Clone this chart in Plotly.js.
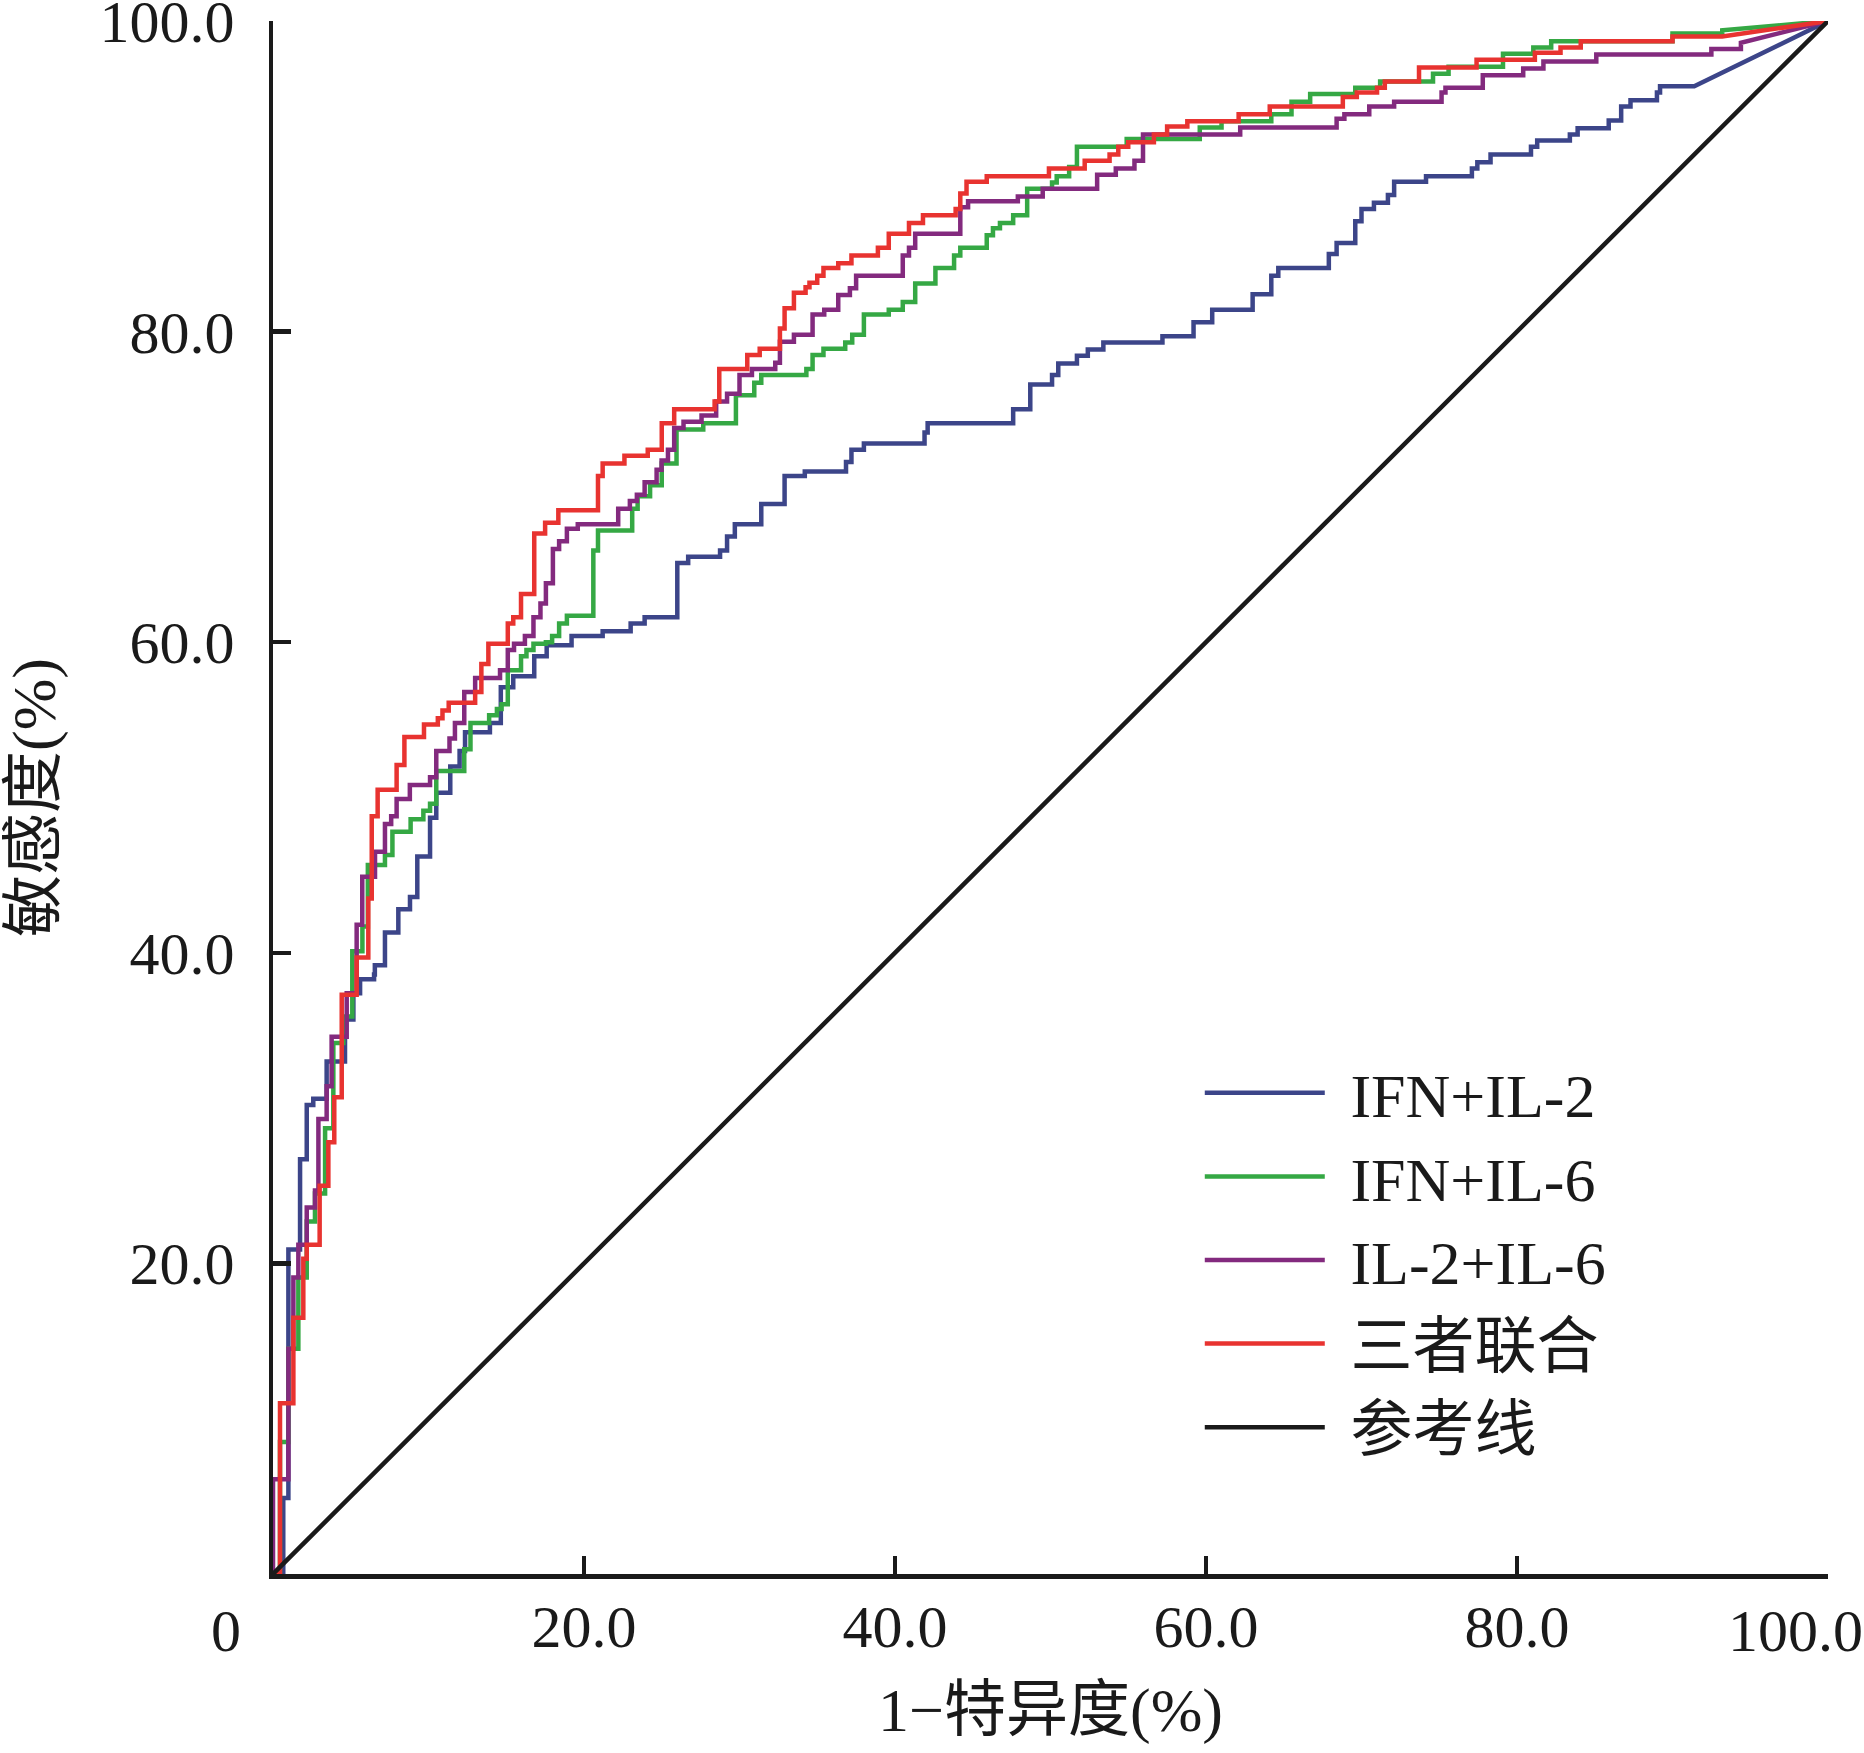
<!DOCTYPE html>
<html>
<head>
<meta charset="utf-8">
<script src="https://cdn.plot.ly/plotly-3.0.1.min.js"></script>
<style>
  body { margin: 0; background: #fff; }
  #plot { width: 1864px; height: 1753px; }
</style>
</head>
<body>
<div id="plot"></div>
<script>
//          data : step points (x = 1-specificity %, y = sensitivity %)
//          each point is the top of a riser, the last point joins straight
var names = ['IFN+IL-2', 'IFN+IL-6', 'IL-2+IL-6', '三者联合', '参考线'];
var colors = ['#3c4589', '#35a844', '#832a7e', '#e83330', '#1a1a1a'];

var blueX = [0, 0.66, 0.99, 1.74, 2.17, 2.59, 3.45, 4.63, 5.17, 5.6, 6.5, 6.55, 7.2, 8.06, 8.81, 9.28, 10.1, 10.5, 11.4, 12.0, 12.35, 13.95, 14.65, 15.45, 16.8, 17.6, 19.2, 21.2, 23.0, 23.9, 26.0, 26.7, 28.75, 29.2, 29.7, 31.4, 32.9, 34.2, 36.85, 37.2, 38.0, 41.9, 42.1, 47.6, 48.7, 50.1, 50.5, 51.7, 52.4, 53.4, 57.2, 59.2, 60.4, 63.0, 64.2, 64.65, 67.9, 68.4, 69.6, 70.0, 70.8, 71.7, 72.1, 74.15, 77.1, 77.45, 78.3, 80.9, 81.3, 83.4, 83.9, 85.9, 86.7, 87.3, 89.0, 89.2, 91.4, 100];
var blueY = [0, 4.9, 20.9, 26.7, 30.2, 30.6, 33.0, 35.7, 37.4, 38.3, 38.6, 39.2, 41.3, 42.8, 43.6, 46.2, 48.7, 50.3, 52.0, 53.0, 54.2, 54.8, 57.1, 57.8, 59.1, 59.8, 60.4, 60.7, 61.2, 61.6, 65.1, 65.5, 65.9, 66.8, 67.6, 68.9, 70.7, 71.0, 71.6, 72.4, 72.8, 73.5, 74.1, 75.0, 76.6, 77.2, 77.95, 78.45, 78.85, 79.3, 79.7, 80.6, 81.4, 82.4, 83.6, 84.1, 85.0, 85.7, 87.1, 87.9, 88.3, 88.8, 89.65, 90.0, 90.5, 90.9, 91.4, 91.9, 92.3, 92.7, 93.1, 93.6, 94.5, 94.9, 95.4, 95.8, 95.8, 100];

var greenX = [0, 0.45, 0.99, 1.63, 2.17, 2.7, 3.35, 3.88, 4.52, 5.1, 5.75, 6.1, 7.2, 7.68, 8.85, 9.67, 10.1, 10.5, 12.3, 12.7, 13.9, 14.4, 14.7, 15.1, 15.95, 16.3, 16.75, 17.55, 17.95, 18.4, 18.9, 20.6, 20.9, 23.1, 23.45, 24.25, 25.0, 25.95, 27.67, 29.77, 30.95, 31.4, 34.3, 34.7, 35.4, 36.8, 37.25, 38.0, 39.6, 40.5, 41.3, 42.6, 43.8, 44.2, 45.9, 46.3, 46.75, 47.6, 48.5, 50.1, 50.4, 51.2, 51.7, 54.9, 59.6, 61.0, 64.2, 65.5, 66.7, 69.6, 71.2, 74.6, 75.6, 79.1, 81.05, 82.2, 90.0, 93.2, 100];
var greenY = [0, 8.5, 14.5, 19.1, 22.7, 24.5, 28.7, 34.2, 35.9, 40.1, 41.7, 45.65, 46.3, 47.8, 48.6, 49.15, 49.6, 51.7, 53.1, 54.8, 55.3, 55.7, 56.0, 58.2, 59.1, 59.5, 59.9, 60.0, 60.4, 61.2, 61.7, 65.9, 67.2, 68.6, 69.4, 70.1, 71.5, 73.7, 74.1, 75.9, 76.7, 77.2, 77.6, 78.5, 78.9, 79.3, 79.8, 81.1, 81.4, 81.9, 83.1, 84.1, 84.9, 85.4, 86.2, 86.65, 87.0, 87.5, 89.2, 89.6, 90.0, 90.6, 91.9, 92.4, 93.15, 93.55, 94.0, 94.8, 95.3, 95.7, 96.1, 96.6, 97.06, 97.9, 98.3, 98.7, 99.2, 99.4, 100];

var purpleX = [0, 0, 0.99, 1.31, 1.63, 2.17, 2.7, 2.92, 3.45, 3.77, 4.74, 5.38, 5.74, 6.56, 7.2, 7.6, 7.95, 8.8, 10.1, 10.5, 11.35, 11.7, 12.3, 13.0, 14.6, 15.1, 15.5, 16.2, 16.75, 17.2, 17.55, 18.0, 18.4, 18.9, 19.6, 22.2, 22.95, 23.4, 23.9, 24.67, 24.99, 25.4, 25.8, 26.4, 27.56, 28.5, 29.2, 30.0, 30.8, 32.3, 32.6, 33.5, 34.7, 35.45, 36.35, 37.1, 37.5, 40.5, 40.9, 41.3, 44.2, 44.7, 47.9, 49.5, 53.0, 54.2, 55.4, 55.95, 62.2, 68.4, 68.9, 70.5, 72.1, 75.15, 75.4, 77.8, 80.4, 81.7, 85.1, 92.5, 94.4, 100];
var purpleY = [0, 6.1, 14.5, 19.1, 21.2, 23.6, 24.7, 29.3, 31.4, 34.6, 37.4, 41.8, 44.9, 46.5, 48.3, 48.8, 49.9, 50.8, 51.3, 53.0, 53.8, 54.8, 56.8, 57.7, 58.2, 59.5, 59.9, 60.4, 61.6, 62.5, 63.8, 66.0, 66.5, 67.3, 67.6, 68.6, 69.1, 69.5, 70.3, 71.1, 71.7, 72.4, 73.8, 74.2, 74.6, 75.5, 76.0, 77.2, 77.6, 78.0, 79.35, 79.8, 81.1, 81.4, 82.35, 82.8, 83.6, 84.9, 85.4, 86.3, 88.0, 88.4, 88.7, 89.2, 90.1, 90.5, 91.0, 92.7, 93.15, 93.7, 94.0, 94.5, 94.8, 95.4, 95.7, 96.5, 96.95, 97.4, 97.85, 98.2, 98.6, 100];

var redX = [0, 0.45, 1.31, 1.95, 2.17, 3.0, 3.56, 3.94, 4.42, 5.38, 6.13, 6.35, 6.73, 7.95, 8.45, 9.71, 10.6, 10.9, 11.3, 13.0, 13.4, 13.85, 15.1, 15.45, 15.95, 16.8, 17.5, 18.35, 20.9, 21.2, 22.6, 24.1, 25.0, 25.8, 28.4, 28.7, 30.5, 31.3, 32.6, 32.9, 33.5, 34.25, 34.5, 35.0, 35.4, 36.35, 37.2, 38.9, 39.6, 40.9, 41.8, 43.9, 44.2, 44.6, 45.9, 49.9, 52.2, 53.8, 54.36, 55.0, 56.65, 57.5, 58.8, 62.1, 64.1, 68.8, 69.7, 71.0, 71.5, 73.7, 77.4, 81.15, 82.8, 84.1, 90.0, 93.2, 100];
var redY = [0, 11.0, 16.5, 20.3, 21.2, 25.0, 27.8, 30.7, 37.3, 39.7, 43.5, 48.8, 50.5, 52.1, 53.9, 54.7, 55.1, 55.6, 56.1, 56.8, 58.6, 59.9, 61.2, 61.6, 63.1, 67.0, 67.7, 68.5, 70.7, 71.5, 72.0, 72.4, 74.1, 75.0, 75.5, 77.6, 78.5, 78.9, 80.2, 81.5, 82.5, 82.85, 83.15, 83.6, 84.1, 84.4, 84.9, 85.4, 86.3, 87.0, 87.5, 87.9, 88.9, 89.65, 90.0, 90.5, 91.0, 91.4, 91.9, 92.2, 92.7, 93.2, 93.55, 94.0, 94.5, 95.1, 95.4, 95.7, 96.1, 97.0, 97.5, 97.96, 98.3, 98.7, 99.0, 99.0, 100];

var refX = [0, 100];
var refY = [0, 100];

var tickVals = [20, 40, 60, 80, 100];
var yTickText = ['20.0', '40.0', '60.0', '80.0', '100.0'];
var xTickText = ['20.0', '40.0', '60.0', '80.0', ''];   // 100.0 and 0 go in as notes

//          turn riser points into a stair path
function stairs(xs, ys)
{
  var px = [xs[0]];
  var py = [ys[0]];
  var last = xs.length - 1;
  for (var i = 1; i < xs.length; i++)
  {
    if (i < last)
    {
      px.push(xs[i]);
      py.push(ys[i-1]);
    }
    px.push(xs[i]);
    py.push(ys[i]);
  }
  return {x: px, y: py};
}

function curve(xs, ys, k, step)
{
  var p = step ? stairs(xs, ys) : {x: xs, y: ys};
  // nbsp + hair space widens the gap between legend line and text
  return {x: p.x, y: p.y, name: '\u00a0\u200a' + names[k], type: 'scatter', mode: 'lines',
          line: {color: colors[k], width: 4.5, simplify: false}};
}

function plot()
{
  var serif = '"Liberation Serif", "Noto Sans CJK SC", serif';
  var ink = '#1a1a1a';
  var traces = [curve(blueX, blueY, 0, true),
                curve(greenX, greenY, 1, true),
                curve(purpleX, purpleY, 2, true),
                curve(redX, redY, 3, true),
                curve(refX, refY, 4, false)];

  var axis = {range: [0, 100.001], showgrid: false, zeroline: false,
              showline: true, linecolor: ink, linewidth: 4.5,
              ticks: 'inside', ticklen: 18, tickwidth: 4.5, tickcolor: ink,
              tickvals: tickVals, ticklabeloverflow: 'allow',
              tickfont: {family: serif, size: 60, color: ink}};

  var labelFont = {family: serif, size: 60, color: ink};

  var layout = {
    width: 1864, height: 1753,
    margin: {l: 273, r: 36, t: 21, b: 179},
    paper_bgcolor: '#fff', plot_bgcolor: '#fff',
    showlegend: true,
    xaxis: Object.assign({}, axis, {
      ticktext: xTickText,
      ticklabelstandoff: -4,
      title: {text: '1−特异度(%)', font: {family: serif, size: 62, color: ink}, standoff: 30}
    }),
    yaxis: Object.assign({}, axis, {
      ticktext: yTickText,
      ticklabelstandoff: 22,
      title: {text: '敏感度(%)', font: {family: serif, size: 62, color: ink}, standoff: 55}
    }),
    legend: {x: 0.596, y: 0.34, xanchor: 'left', yanchor: 'top',
             itemwidth: 120, tracegroupgap: 0,
             font: {family: serif, size: 62, color: ink},
             bgcolor: 'rgba(0,0,0,0)'},
    annotations: [
      {text: '0', xref: 'paper', yref: 'paper', x: -0.030, y: -0.0367,
       showarrow: false, xanchor: 'center', yanchor: 'middle', font: labelFont},
      {text: '100.0', xref: 'paper', yref: 'paper', x: 0.9788, y: -0.0367,
       showarrow: false, xanchor: 'center', yanchor: 'middle', font: labelFont}
    ]
  };

  Plotly.newPlot(document.getElementById('plot'), traces, layout, {staticPlot: true});
}

plot();
</script>
</body>
</html>
